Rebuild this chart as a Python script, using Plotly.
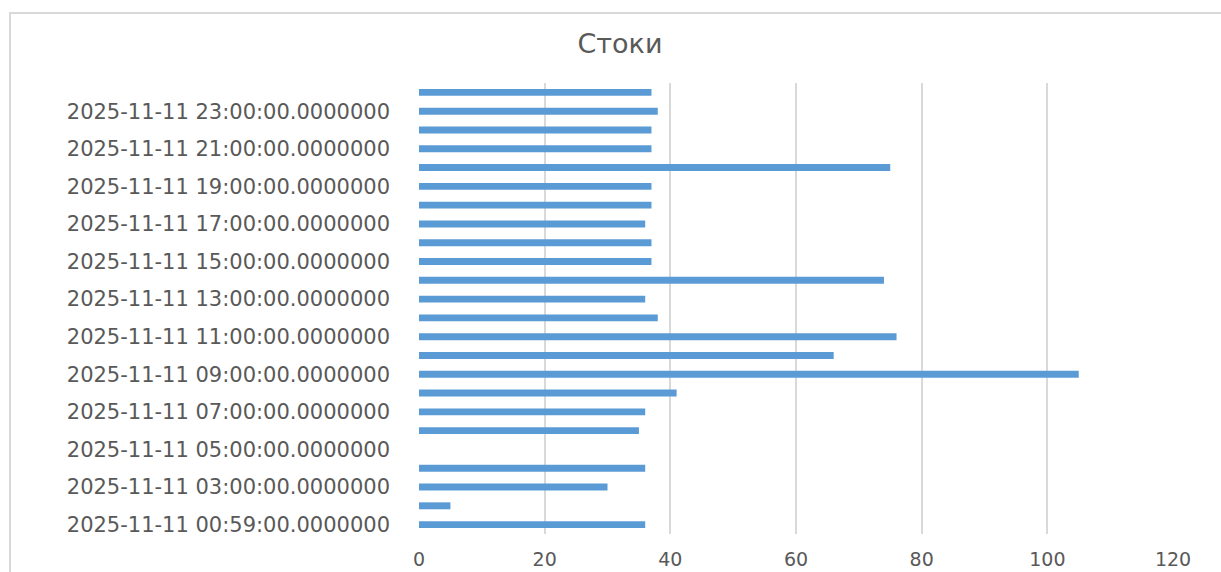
import plotly.graph_objects as go

categories = [
    "2025-11-11 00:59:00.0000000",
    "2025-11-11 02:00:00.0000000",
    "2025-11-11 03:00:00.0000000",
    "2025-11-11 04:00:00.0000000",
    "2025-11-11 05:00:00.0000000",
    "2025-11-11 06:00:00.0000000",
    "2025-11-11 07:00:00.0000000",
    "2025-11-11 08:00:00.0000000",
    "2025-11-11 09:00:00.0000000",
    "2025-11-11 10:00:00.0000000",
    "2025-11-11 11:00:00.0000000",
    "2025-11-11 12:00:00.0000000",
    "2025-11-11 13:00:00.0000000",
    "2025-11-11 14:00:00.0000000",
    "2025-11-11 15:00:00.0000000",
    "2025-11-11 16:00:00.0000000",
    "2025-11-11 17:00:00.0000000",
    "2025-11-11 18:00:00.0000000",
    "2025-11-11 19:00:00.0000000",
    "2025-11-11 20:00:00.0000000",
    "2025-11-11 21:00:00.0000000",
    "2025-11-11 22:00:00.0000000",
    "2025-11-11 23:00:00.0000000",
    "2025-11-12 00:00:00.0000000",
]
values = [36, 5, 30, 36, None, 35, 36, 41, 105, 66, 76, 38, 36, 74,
          37, 37, 36, 37, 37, 75, 37, 37, 38, 37]
shown_labels = categories[::2]
x_ticks = [0, 20, 40, 60, 80, 100, 120]

W, H = 1221, 572
L, R, T, B = 419, 48, 83, 38
pw, ph = W - L - R, H - T - B

def px_x(p):
    return (p - L) / pw

def px_y(p):
    return (H - B - p) / ph

FONT = "DejaVu Sans"
TXT = "#595959"

fig = go.Figure()
fig.add_trace(go.Bar(
    y=categories, x=values, orientation="h",
    marker=dict(color="#5B9BD5", line=dict(width=0)),
    showlegend=False,
))

fig.update_layout(
    width=W, height=H,
    margin=dict(l=L, r=R, t=T, b=B, autoexpand=False),
    paper_bgcolor="white", plot_bgcolor="white",
    bargap=0.63,
    title=dict(text="Стоки", x=620 / W, xref="container", xanchor="center",
               y=1 - 44 / H, yref="container", yanchor="middle",
               font=dict(family=FONT, size=27, color=TXT)),
    xaxis=dict(range=[0, 120], tickvals=x_ticks, showgrid=True,
               gridcolor="#D9D9D9", gridwidth=1.5, zeroline=False,
               showline=False, ticks="", ticklabelstandoff=12,
               tickfont=dict(family=FONT, size=19, color=TXT)),
    yaxis=dict(type="category", categoryorder="array", categoryarray=categories,
               tickvals=shown_labels, ticktext=shown_labels,
               showgrid=False, zeroline=False, showline=False, ticks="",
               ticklabelstandoff=28, range=[-0.5, len(categories) - 0.5],
               tickfont=dict(family=FONT, size=21, color=TXT)),
    shapes=[dict(type="rect", xref="paper", yref="paper",
                 x0=px_x(10), x1=px_x(1240), y0=px_y(600), y1=px_y(13),
                 line=dict(color="#D9D9D9", width=2), fillcolor="rgba(0,0,0,0)",
                 layer="below")],
)

fig.write_html("out.html")
